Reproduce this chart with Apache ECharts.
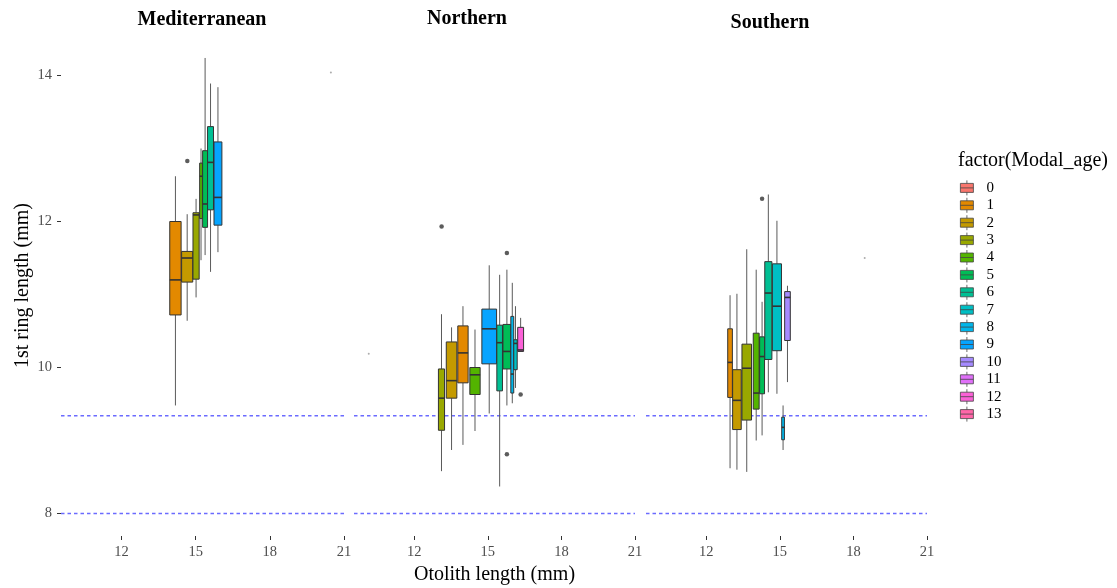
<!DOCTYPE html>
<html>
<head>
<meta charset="utf-8">
<title>1st ring length by otolith length</title>
<script src="https://cdn.jsdelivr.net/npm/echarts@6/dist/echarts.min.js"></script>
<style>
  html, body { margin: 0; padding: 0; background: #fff; }
  #chart { width: 1117px; height: 588px; }
</style>
</head>
<body>
<div id="chart"></div>
<script>
// ---- data ----
var ageLevels = ['0', '1', '2', '3', '4', '5', '6', '7', '8', '9', '10', '11', '12', '13'];
var ageColors = ['#F8766D', '#E38900', '#C49A00', '#99A800', '#53B400', '#00BC56', '#00C094',
                 '#00BFC4', '#00B6EB', '#06A4FF', '#A58AFF', '#DF70F8', '#FB61D7', '#FF66A8'];
var panelNames = ['Mediterranean', 'Northern', 'Southern'];
var xTicks = [12, 15, 18, 21];
var yTicks = [8, 10, 12, 14];
var refLines = [9.34, 8];

// boxes: modal age, otolith length span [lo, hi], and [min, q1, median, q3, max]
var medAges = [1, 2, 3, 4, 5, 6, 9];
var medSpan = [[13.95, 14.41], [14.43, 14.88], [14.89, 15.14], [15.16, 15.27], [15.28, 15.48], [15.48, 15.72], [15.74, 16.06]];
var medStats = [
    [9.48, 10.72, 11.20, 12.00, 12.62],
    [10.64, 11.17, 11.50, 11.59, 12.10],
    [10.96, 11.21, 12.09, 12.12, 12.31],
    [11.47, 12.04, 12.62, 12.80, 13.00],
    [11.54, 11.92, 12.24, 12.97, 14.24],
    [11.31, 12.16, 12.81, 13.30, 13.89],
    [11.58, 11.95, 12.33, 13.09, 13.84]
];
var medOutliers = [[14.66, 12.83]];

var norAges = [3, 2, 1, 4, 9, 6, 5, 8, 7, 12];
var norSpan = [[12.99, 13.24], [13.31, 13.74], [13.78, 14.20], [14.27, 14.69], [14.76, 15.36],
               [15.37, 15.60], [15.62, 15.94], [15.94, 16.06], [16.06, 16.20], [16.22, 16.46]];
var norStats = [
    [8.58, 9.14, 9.58, 9.98, 10.73],
    [8.87, 9.58, 9.82, 10.35, 10.55],
    [8.94, 9.79, 10.20, 10.57, 10.84],
    [9.13, 9.63, 9.90, 10.00, 10.52],
    [9.37, 10.05, 10.53, 10.80, 11.40],
    [8.37, 9.68, 10.34, 10.58, 11.27],
    [9.48, 9.98, 10.22, 10.59, 11.34],
    [9.51, 9.65, 9.91, 10.70, 11.16],
    [9.72, 9.97, 10.33, 10.38, 10.84],
    [10.22, 10.22, 10.24, 10.55, 10.68]
];
var norOutliers = [[13.12, 11.93], [15.78, 11.57], [15.78, 8.81], [16.34, 9.63]];

var souAges = [1, 2, 3, 4, 5, 6, 7, 8, 10];
var souSpan = [[12.88, 13.07], [13.08, 13.43], [13.46, 13.85], [13.92, 14.16], [14.18, 14.38],
               [14.39, 14.68], [14.70, 15.07], [15.08, 15.19], [15.20, 15.43]];
var souStats = [
    [8.62, 9.59, 10.07, 10.53, 10.99],
    [8.60, 9.15, 9.55, 9.97, 11.01],
    [8.57, 9.28, 9.99, 10.32, 11.62],
    [9.00, 9.43, 9.65, 10.47, 11.34],
    [9.07, 9.64, 10.15, 10.42, 10.90],
    [9.66, 10.11, 11.02, 11.45, 12.37],
    [9.64, 10.23, 10.84, 11.42, 12.01],
    [8.87, 9.01, 9.18, 9.32, 9.48],
    [9.80, 10.37, 10.96, 11.04, 11.12]
];
var souOutliers = [[14.28, 12.31]];

// stray specks in each panel
var specks = [[[20.47, 14.04]], [[10.15, 10.19]], [[18.46, 11.50]]];

var panels = [
    {ages: medAges, span: medSpan, stats: medStats, out: medOutliers},
    {ages: norAges, span: norSpan, stats: norStats, out: norOutliers},
    {ages: souAges, span: souSpan, stats: souStats, out: souOutliers}
];

// ---- layout ----
var FONT = '"Liberation Serif", "DejaVu Serif", serif';
var gridLeft = [61, 354, 646];
var gridWidth = [283, 281, 281];
var titleX = [202, 467, 770];
var titleY = [20, 19, 23];
var REF_COLOR = '#6b6bff';
var X_MIN = 9.55, X_MAX = 21;
var Y_MIN = 7.6918, Y_MAX = 14.5548;

var dom = document.getElementById('chart');
var myChart = echarts.init(dom);

// draws one box: whiskers, box, median
function renderBox(params, api) {
    var p1 = api.coord([api.value(0), api.value(5)]); // lo, q3
    var p2 = api.coord([api.value(1), api.value(3)]); // hi, q1
    var xc = (p1[0] + p2[0]) / 2;
    var yMin = api.coord([api.value(0), api.value(2)])[1];
    var yMed = api.coord([api.value(0), api.value(4)])[1];
    var yMax = api.coord([api.value(0), api.value(6)])[1];
    var whisker = {stroke: '#5a5a5a', lineWidth: 1};
    return {
        type: 'group',
        children: [
            {type: 'line', shape: {x1: xc, y1: yMax, x2: xc, y2: p1[1]}, style: whisker},
            {type: 'line', shape: {x1: xc, y1: p2[1], x2: xc, y2: yMin}, style: whisker},
            {type: 'rect', shape: {x: p1[0], y: p1[1], width: p2[0] - p1[0], height: p2[1] - p1[1]},
             style: {fill: api.visual('color'), stroke: '#333', lineWidth: 1}},
            {type: 'line', shape: {x1: p1[0], y1: yMed, x2: p2[0], y2: yMed},
             style: {stroke: '#333', lineWidth: 1.6}}
        ]
    };
}

// horizontal dashed line across the whole panel (geom_hline)
function renderHLine(params, api) {
    var cs = params.coordSys;
    var y = api.coord([X_MIN, api.value(1)])[1];
    return {
        type: 'line',
        shape: {x1: cs.x, y1: y, x2: cs.x + cs.width, y2: y},
        style: {stroke: REF_COLOR, lineWidth: 1.5, lineDash: [3.5, 3]}
    };
}

var grids = [], xAxes = [], yAxes = [], series = [], graphics = [];
var used = {};

panels.forEach(function (pn, p) {
    grids.push({left: gridLeft[p], top: 35, width: gridWidth[p], height: 501, outerBoundsMode: 'none'});
    xAxes.push({
        type: 'value', gridIndex: p, min: X_MIN, max: X_MAX,
        name: p === 1 ? 'Otolith length (mm)' : '',
        nameLocation: 'middle', nameGap: 26,
        nameTextStyle: {fontFamily: FONT, fontSize: 20, color: '#000'},
        axisLine: {show: false, onZero: false},
        splitLine: {show: false},
        axisTick: {show: true, length: 4, customValues: xTicks, lineStyle: {color: '#333'}},
        axisLabel: {customValues: xTicks, margin: 9, color: '#4D4D4D', fontFamily: FONT, fontSize: 14.5}
    });
    yAxes.push({
        type: 'value', gridIndex: p, min: Y_MIN, max: Y_MAX,
        show: p === 0,
        name: '1st ring length (mm)',
        nameLocation: 'middle', nameGap: 28,
        nameTextStyle: {fontFamily: FONT, fontSize: 20, color: '#000'},
        axisLine: {show: false, onZero: false},
        splitLine: {show: false},
        axisTick: {show: true, length: 4, customValues: yTicks, lineStyle: {color: '#333'}},
        axisLabel: {customValues: yTicks, margin: 9, color: '#4D4D4D', fontFamily: FONT, fontSize: 14.5}
    });

    // dashed reference lines
    series.push({
        type: 'custom', name: 'ref',
        xAxisIndex: p, yAxisIndex: p,
        renderItem: renderHLine,
        encode: {x: 0, y: 1},
        data: refLines.map(function (v) { return [X_MIN, v]; }),
        silent: true,
        z: 1
    });

    // one custom series per box so the legend can pick each age up
    pn.ages.forEach(function (age, i) {
        used[age] = true;
        var s = pn.stats[i];
        series.push({
            type: 'custom',
            name: ageLevels[age],
            xAxisIndex: p, yAxisIndex: p,
            renderItem: renderBox,
            itemStyle: {color: ageColors[age]},
            encode: {x: [0, 1], y: [2, 3, 4, 5, 6]},
            data: [[pn.span[i][0], pn.span[i][1], s[0], s[1], s[2], s[3], s[4]]],
            z: 2
        });
    });

    // outliers
    series.push({
        type: 'scatter', name: 'outliers',
        xAxisIndex: p, yAxisIndex: p,
        symbolSize: 4.5,
        itemStyle: {color: '#333'},
        data: pn.out,
        z: 3
    });
    series.push({
        type: 'scatter', name: 'specks',
        xAxisIndex: p, yAxisIndex: p,
        symbolSize: 2,
        itemStyle: {color: '#999'},
        data: specks[p]
    });

    graphics.push({
        type: 'text', x: titleX[p], y: titleY[p],
        style: {text: panelNames[p], font: 'bold 20px ' + FONT, fill: '#000',
                textAlign: 'center', textVerticalAlign: 'middle'}
    });
});

// ages without any box still belong in the legend
ageLevels.forEach(function (name, age) {
    if (!used[age]) {
        series.push({
            type: 'custom', name: name, xAxisIndex: 0, yAxisIndex: 0,
            renderItem: renderBox, itemStyle: {color: ageColors[age]}, data: []
        });
    }
});

graphics.push({
    type: 'text', x: 958, y: 161,
    style: {text: 'factor(Modal_age)', font: '20px ' + FONT, fill: '#000',
            textAlign: 'left', textVerticalAlign: 'middle'}
});

myChart.setOption({
    animation: false,
    backgroundColor: '#fff',
    grid: grids,
    xAxis: xAxes,
    yAxis: yAxes,
    legend: {
        data: ageLevels,
        orient: 'vertical',
        left: 960, top: 180,
        padding: 0,
        selectedMode: false,
        icon: 'path://M6.5,0V3M0,3H13V12H0ZM0,7.5H13M6.5,12V15',
        itemWidth: 13, itemHeight: 15, itemGap: 1.6,
        itemStyle: {borderColor: '#444', borderWidth: 0.8},
        textStyle: {fontFamily: FONT, fontSize: 15, color: '#000', lineHeight: 15, padding: [0, 0, 0, 8]}
    },
    graphic: graphics,
    series: series
});

window.addEventListener('resize', function () {
    myChart.resize();
});
</script>
</body>
</html>
